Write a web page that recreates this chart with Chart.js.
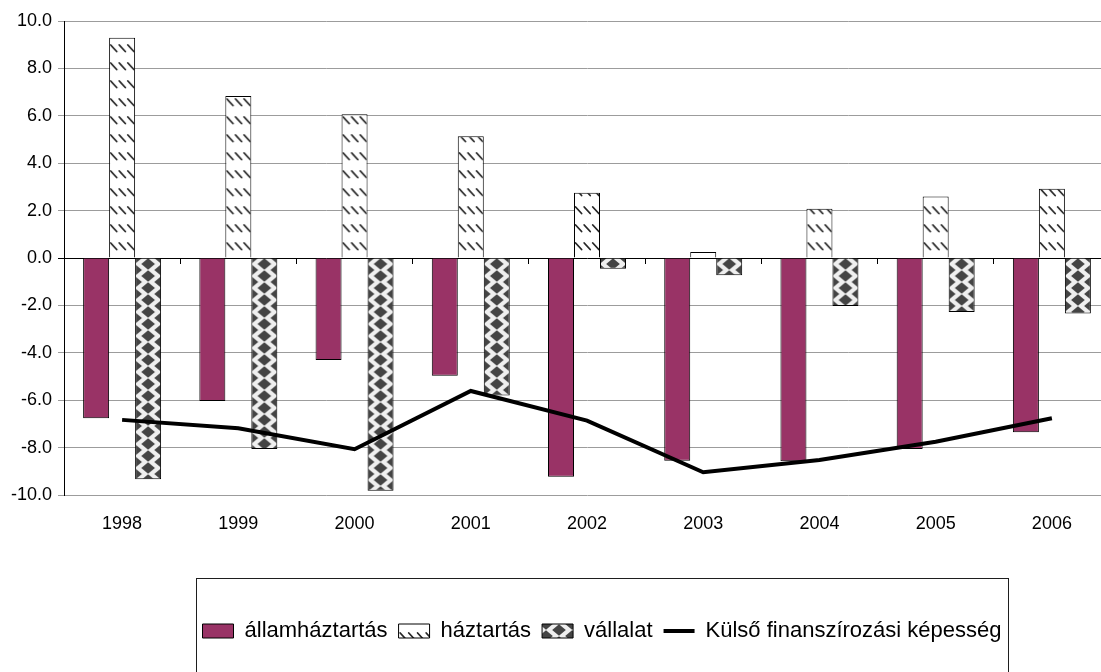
<!DOCTYPE html>
<html>
<head>
<meta charset="utf-8">
<script src="https://cdn.jsdelivr.net/npm/chart.js@4.4.1/dist/chart.umd.min.js"></script>
<style>
  html, body { margin: 0; padding: 0; overflow: hidden; background: #ffffff; }
  #wrap { position: relative; width: 1110px; height: 700px; }
</style>
</head>
<body>
<div id="wrap"><canvas id="chart" width="1110" height="700"></canvas></div>
<script>
// Sector balances, % of GDP
const years = ['1998', '1999', '2000', '2001', '2002', '2003', '2004', '2005', '2006'];
const allamhaztartas = [-6.76, -6.03, -4.30, -4.97, -9.23, -8.55, -8.58, -8.06, -7.35];
const haztartas = [9.29, 6.84, 6.07, 5.14, 2.75, 0.25, 2.08, 2.60, 2.92];
const vallalat = [-9.34, -8.06, -9.82, -5.80, -0.45, -0.73, -2.03, -2.28, -2.34];
const kulsoFinanszirozas = [-6.83, -7.18, -8.07, -5.61, -6.86, -9.04, -8.52, -7.75, -6.76];
const seriesNames = ['államháztartás', 'háztartás', 'vállalat', 'Külső finanszírozási képesség'];
const yRange = { min: -10, max: 10, step: 2 };

// Layout and styling constants
const FONT = "'Liberation Sans', Arial, sans-serif";
const CATEGORY_PCT = 0.671;
const PLUM = '#993366';
const GRID_GRAY = '#9c9c9c';
const legendFrame = { left: 196, right: 1008, top: 578, bottom: 685, rowCenter: 631 };

Chart.defaults.font.family = FONT;
Chart.defaults.color = '#000';

// Fill tiles for the patterned bars
function makeTile(w, h, paint) {
  const c = document.createElement('canvas');
  c.width = w; c.height = h;
  paint(c.getContext('2d'), w, h);
  return c;
}
const hatchTile = makeTile(26, 18, (g, w, h) => {
  g.fillStyle = '#ffffff';
  g.fillRect(0, 0, w, h);
  g.strokeStyle = '#262626';
  g.lineWidth = 1.8;
  g.lineCap = 'round';
  [1.6, 10.2, 18.8].forEach(x0 => {
    g.beginPath();
    g.moveTo(x0, 3);
    g.lineTo(x0 + 6, 9.5);
    g.stroke();
  });
});
const diamondTile = makeTile(26, 12, (g, w, h) => {
  g.fillStyle = '#efefef';
  g.fillRect(0, 0, w, h);
  g.fillStyle = '#444444';
  const d = (cx, cy) => {
    g.beginPath();
    g.moveTo(cx - 6.8, cy);
    g.lineTo(cx, cy - 5.8);
    g.lineTo(cx + 6.8, cy);
    g.lineTo(cx, cy + 5.8);
    g.closePath();
    g.fill();
  };
  d(0, 0); d(26, 0); d(0, 12); d(26, 12); d(13, 6);
});

// Pattern anchored at the left edge of each bar and at the zero line
function barPattern(tile, slotIndex) {
  return (ctx) => {
    const chart = ctx.chart;
    const pat = chart.ctx.createPattern(tile, 'repeat');
    const xs = chart.scales.x, ys = chart.scales.y;
    if (ctx.type !== 'data' || !xs || !ys || !(xs.width > 0) || !(ys.height > 0)) return pat;
    const slot = xs.width / years.length * CATEGORY_PCT / 3;
    const left = xs.getPixelForValue(ctx.dataIndex) - 1.5 * slot + slotIndex * slot;
    const zero = ys.getPixelForValue(0);
    pat.setTransform(new DOMMatrix([1, 0, 0, 1, left, zero]));
    return pat;
  };
}

const legendFramePlugin = {
  id: 'legendFrame',
  afterLayout(chart) {
    const lg = chart.legend;
    if (!lg) return;
    const h = lg.height;
    const pad = lg.options.labels.padding;
    const fs = lg.options.labels.font.size;
    lg.left = legendFrame.left - 12;
    lg.right = legendFrame.right + 12;
    lg.width = lg.right - lg.left;
    lg.top = legendFrame.rowCenter - pad - fs / 2;
    lg.bottom = lg.top + h;
  },
  afterDraw(chart) {
    const c = chart.ctx;
    c.save();
    c.strokeStyle = '#1e1e1e';
    c.lineWidth = 1;
    c.strokeRect(legendFrame.left + 0.5, legendFrame.top + 0.5,
      legendFrame.right - legendFrame.left, legendFrame.bottom - legendFrame.top);
    c.restore();
  }
};

const ctx = document.getElementById('chart').getContext('2d');
new Chart(ctx, {
  type: 'bar',
  data: {
    labels: years,
    datasets: [
      {
        label: seriesNames[0], data: allamhaztartas, xAxisID: 'x', order: 1,
        backgroundColor: PLUM, borderColor: '#000', borderWidth: 1,
        barPercentage: 1, categoryPercentage: CATEGORY_PCT
      },
      {
        label: seriesNames[1], data: haztartas, xAxisID: 'x', order: 1,
        backgroundColor: barPattern(hatchTile, 1), borderColor: '#000', borderWidth: 1,
        barPercentage: 1, categoryPercentage: CATEGORY_PCT
      },
      {
        label: seriesNames[2], data: vallalat, xAxisID: 'x', order: 1,
        backgroundColor: barPattern(diamondTile, 2), borderColor: '#000', borderWidth: 1,
        barPercentage: 1, categoryPercentage: CATEGORY_PCT
      },
      {
        type: 'line', label: seriesNames[3], data: kulsoFinanszirozas, xAxisID: 'x', order: 0,
        borderColor: '#000', backgroundColor: '#000', borderWidth: 4,
        pointRadius: 0, fill: false, tension: 0
      }
    ]
  },
  options: {
    responsive: false,
    animation: false,
    events: [],
    layout: { padding: { top: 21, right: 0, bottom: 0, left: 0 } },
    plugins: {
      tooltip: { enabled: false },
      legend: {
        position: 'bottom',
        maxHeight: 40,
        labels: {
          color: '#000',
          font: { size: 22, family: FONT },
          usePointStyle: true,
          pointStyleWidth: 31,
          boxHeight: 14,
          padding: 11,
          sort: (a, b) => a.datasetIndex - b.datasetIndex,
          generateLabels(chart) {
            const items = Chart.defaults.plugins.legend.labels.generateLabels(chart);
            const fills = [PLUM,
              chart.ctx.createPattern(hatchTile, 'repeat'),
              chart.ctx.createPattern(diamondTile, 'repeat')];
            items.forEach(it => {
              const ds = chart.data.datasets[it.datasetIndex];
              if (ds.type === 'line') {
                it.pointStyle = 'line';
                it.lineWidth = 4;
                it.strokeStyle = '#000';
              } else {
                it.pointStyle = 'rect';
                it.lineWidth = 1;
                it.strokeStyle = '#000';
                it.fillStyle = fills[it.datasetIndex];
              }
            });
            return items.sort((a, b) => a.datasetIndex - b.datasetIndex);
          }
        }
      }
    },
    scales: {
      x: {
        grid: { display: false },
        border: { display: false },
        ticks: { color: '#000', font: { size: 18 }, padding: 10, maxRotation: 0, autoSkip: false },
        afterFit(scale) { scale.height = 165; }
      },
      x2: {
        type: 'category',
        labels: years,
        position: { y: 0 },
        offset: true,
        grid: { display: true, drawOnChartArea: false, drawTicks: true, tickLength: 6, offset: true, color: '#000' },
        border: { display: false },
        ticks: { display: false }
      },
      y: {
        min: yRange.min,
        max: yRange.max,
        ticks: {
          stepSize: yRange.step,
          color: '#000',
          font: { size: 18 },
          padding: 6,
          callback: v => Number(v).toFixed(1)
        },
        grid: {
          color: c => (c.tick && c.tick.value === 0) ? '#000' : GRID_GRAY,
          tickLength: 6,
          drawTicks: true
        },
        border: { display: true, color: '#000', width: 1 },
        afterFit(scale) { scale.width = 64; }
      }
    }
  },
  plugins: [legendFramePlugin]
});
</script>
</body>
</html>
